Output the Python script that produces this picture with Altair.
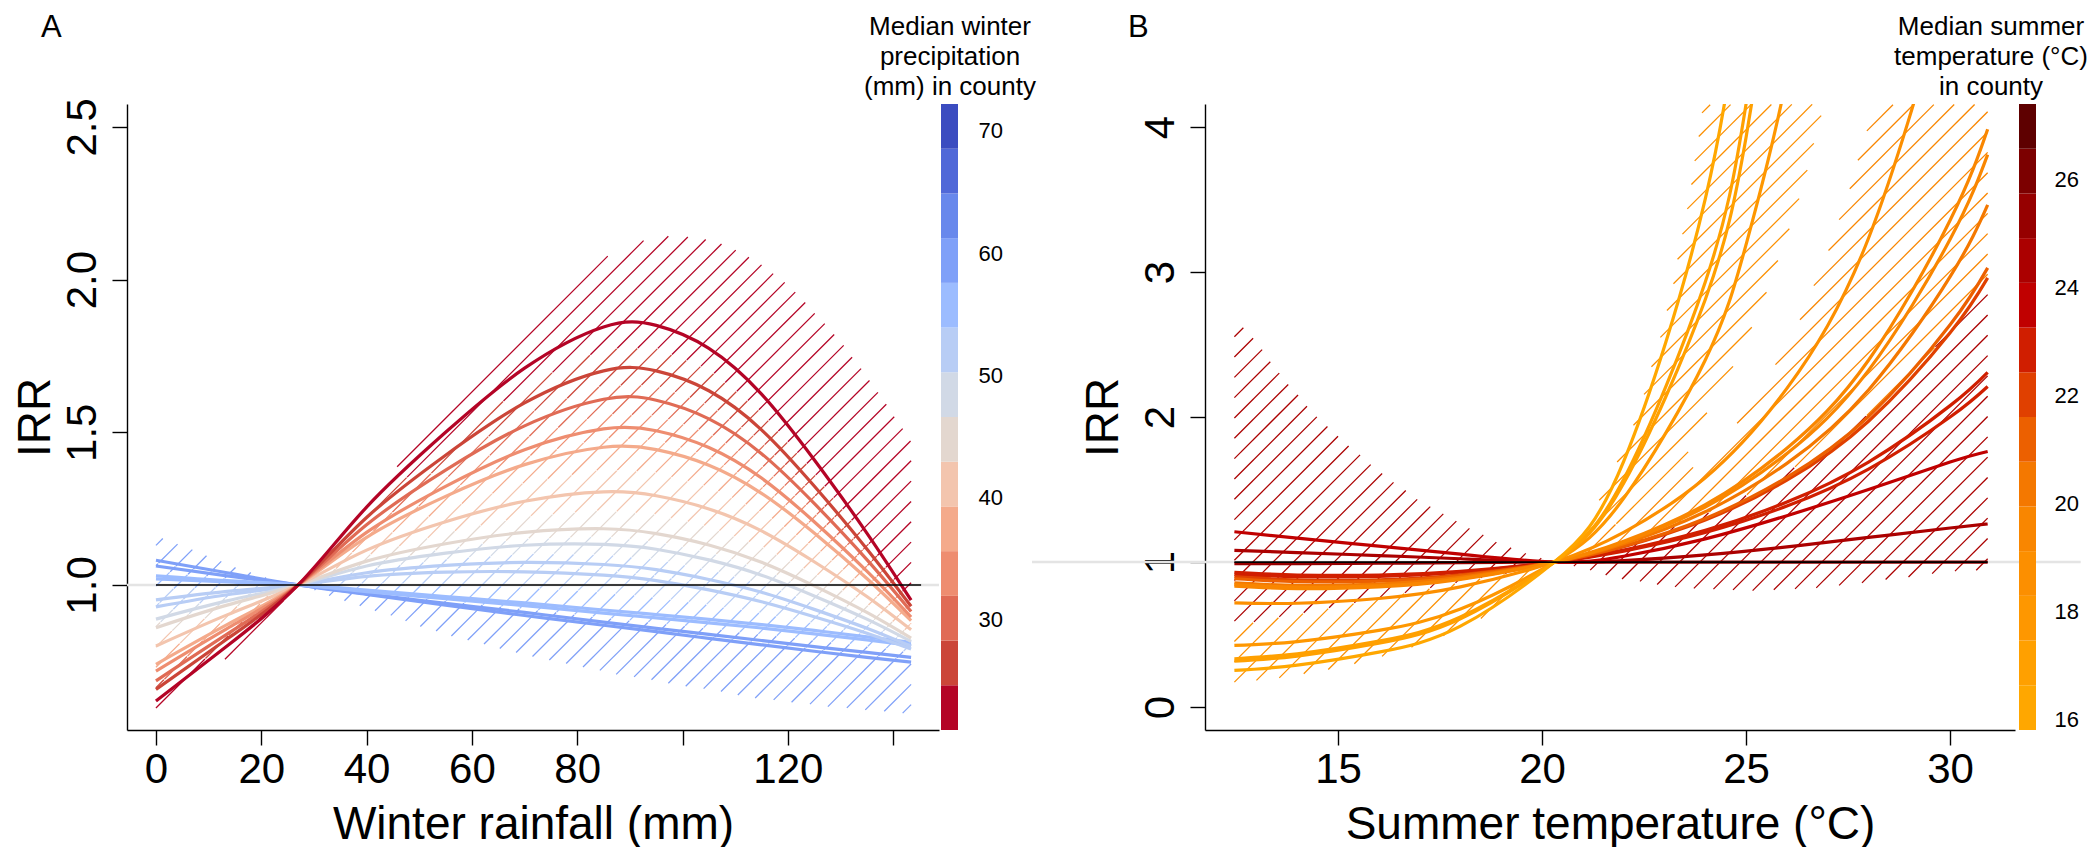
import numpy as np
import pandas as pd
import altair as alt

FONT = "Liberation Sans"
H = 626
HATCH_GAP = 20.32

# ---------------- Panel A : winter rainfall ----------------
A_X = [0, 13.5, 27, 40, 55, 70, 85, 95, 105, 115, 125, 135, 143.4]
A_NAMES = ["b1", "b2", "b3", "b4", "r10", "r9", "r8", "r7", "r6", "r5", "r4", "r3", "r2", "r1"]
A_MEDIAN = [60, 59, 56, 55, 53, 52, 48, 45, 41, 37, 34, 30, 26.5, 23]
A_b1 = [1.081, 1.040, 1.000, 0.969, 0.934, 0.900, 0.868, 0.847, 0.825, 0.804, 0.783, 0.763, 0.747]
A_b2 = [1.062, 1.030, 1.000, 0.971, 0.940, 0.910, 0.878, 0.858, 0.838, 0.818, 0.798, 0.779, 0.763]
A_b3 = [1.030, 1.014, 1.000, 0.978, 0.955, 0.932, 0.908, 0.892, 0.876, 0.859, 0.840, 0.820, 0.802]
A_b4 = [1.020, 1.010, 1.000, 0.983, 0.962, 0.941, 0.918, 0.903, 0.887, 0.870, 0.851, 0.830, 0.812]
A_r10 = [0.951, 0.979, 1.000, 1.028, 1.042, 1.043, 1.032, 1.014, 0.984, 0.945, 0.896, 0.842, 0.790]
A_r9 = [0.928, 0.968, 1.000, 1.040, 1.064, 1.074, 1.067, 1.050, 1.018, 0.976, 0.920, 0.858, 0.799]
A_r8 = [0.888, 0.948, 1.000, 1.062, 1.104, 1.130, 1.133, 1.117, 1.082, 1.032, 0.964, 0.888, 0.815]
A_r7 = [0.860, 0.934, 1.000, 1.078, 1.135, 1.172, 1.184, 1.168, 1.131, 1.074, 0.997, 0.910, 0.826]
A_r6 = [0.800, 0.902, 1.000, 1.114, 1.207, 1.274, 1.305, 1.292, 1.249, 1.177, 1.076, 0.962, 0.853]
A_r5 = [0.740, 0.870, 1.000, 1.156, 1.290, 1.394, 1.451, 1.443, 1.392, 1.300, 1.170, 1.021, 0.883]
A_r4 = [0.718, 0.857, 1.000, 1.172, 1.323, 1.443, 1.511, 1.505, 1.450, 1.350, 1.207, 1.045, 0.895]
A_r3 = [0.686, 0.839, 1.000, 1.197, 1.376, 1.521, 1.608, 1.605, 1.544, 1.430, 1.267, 1.083, 0.913]
A_r2 = [0.658, 0.823, 1.000, 1.221, 1.425, 1.596, 1.701, 1.701, 1.636, 1.508, 1.324, 1.118, 0.930]
A_r1 = [0.620, 0.800, 1.000, 1.255, 1.500, 1.710, 1.845, 1.850, 1.775, 1.625, 1.410, 1.170, 0.950]
A_VALUES = [A_b1, A_b2, A_b3, A_b4, A_r10, A_r9, A_r8, A_r7, A_r6, A_r5, A_r4, A_r3, A_r2, A_r1]

# outline of the hatched confidence region
A_CI_UP_X = [0, 5, 10, 15, 20, 24, 27, 31, 35, 40, 47.5, 55, 62, 70, 80, 86.4, 92.7, 97, 101,
             105, 110, 115, 120, 125, 130, 135, 140, 143.4]
A_CI_UP = [1.16, 1.13, 1.095, 1.06, 1.03, 1.01, 1.0, 1.085, 1.17, 1.275, 1.42, 1.56, 1.69, 1.83,
           1.99, 2.086, 2.129, 2.143, 2.141, 2.132, 2.10, 2.05, 1.985, 1.895, 1.80, 1.685, 1.56, 1.47]
A_CI_LO_X = [0, 6, 12.7, 20, 27, 33, 39, 45, 50, 56, 62, 68, 75, 81, 87, 94, 100, 107, 114,
             121, 128, 135, 143.4]
A_CI_LO = [0.58, 0.66, 0.75, 0.87, 1.0, 0.964, 0.93, 0.896, 0.865, 0.833, 0.806, 0.778, 0.753,
           0.731, 0.708, 0.688, 0.67, 0.65, 0.628, 0.615, 0.60, 0.59, 0.578]

A_COLORS = ["#b40426", "#cb4538", "#e06b55", "#ee8d70", "#f4aa8b", "#f3c5ae", "#e3d7cf",
            "#d1d9e6", "#b8cdf5", "#9cbcff", "#7fa0f8", "#6888ec", "#5068d8", "#3b4cc0"]
A_CB_DOMAIN = [21.0, 72.2]
A_CB_TICKS = [30, 40, 50, 60, 70]
A_XDOM = [-5.5, 148.7]
A_YDOM = [0.525, 2.575]
A_W = 812
A_XTICKS = [0, 20, 40, 60, 80, 100, 120, 140]
A_YTICKS = [1.0, 1.5, 2.0, 2.5]
A_REF_X = [0, 145.3]
A_GREY_X = [-5.5, 148.7]
A_PHASE = 632.9
A_TITLE = "Median winter\nprecipitation\n(mm) in county"

# ---------------- Panel B : summer temperature ----------------
B_X = [12.46, 14, 16, 18, 20.3, 22, 24, 26, 28, 30, 30.92]
B_NAMES = ["D3", "D2", "D1", "R4", "R3", "R2", "R1", "O4", "O3", "O2", "O1", "Y4", "Y3", "Y2", "Y1"]
B_MEDIAN = [25.3, 24.5, 23.6, 23.0, 22.8, 22.0, 21.2, 20.3, 19.7, 19.4, 18.7, 17.9, 17.2, 16.9, 16.2]
B_D3 = [0.990, 0.990, 0.992, 0.996, 1.0, 1.0, 1.0, 1.0, 1.0, 1.0, 1.0]
B_D2 = [1.081, 1.065, 1.045, 1.023, 1.0, 1.010, 1.050, 1.105, 1.170, 1.235, 1.264]
B_D1 = [1.209, 1.165, 1.110, 1.055, 1.0, 1.040, 1.160, 1.320, 1.500, 1.690, 1.763]
B_R4 = [0.930, 0.911, 0.910, 0.936, 1.0, 1.076, 1.204, 1.386, 1.641, 2.000, 2.211]
B_R3 = [0.915, 0.899, 0.901, 0.930, 1.0, 1.082, 1.219, 1.414, 1.690, 2.079, 2.309]
B_R2 = [0.900, 0.877, 0.877, 0.912, 1.0, 1.106, 1.290, 1.565, 1.971, 2.581, 2.960]
B_R1 = [0.885, 0.865, 0.869, 0.907, 1.0, 1.110, 1.301, 1.584, 2.004, 2.636, 3.029]
B_O4 = [0.857, 0.839, 0.848, 0.894, 1.0, 1.126, 1.347, 1.681, 2.187, 2.968, 3.464]
B_O3 = [0.845, 0.827, 0.836, 0.885, 1.0, 1.137, 1.379, 1.749, 2.322, 3.226, 3.810]
B_O2 = [0.834, 0.817, 0.829, 0.881, 1.0, 1.143, 1.396, 1.785, 2.392, 3.357, 3.985]
B_O1_X = [12.46, 14, 16, 18, 20.3, 22, 24, 26, 28, 30]
B_O1 = [0.719, 0.716, 0.749, 0.829, 1.0, 1.205, 1.582, 2.198, 3.233, 5.03]
B_Y4_X = [12.46, 14, 16, 18, 20.3, 22, 24, 25, 26, 27]
B_Y4 = [0.425, 0.452, 0.529, 0.676, 1.0, 1.439, 2.394, 3.19, 4.35, 6.06]
B_Y3_X = [12.46, 14, 16, 18, 20.3, 22, 24, 25, 26]
B_Y3 = [0.333, 0.368, 0.455, 0.621, 1.0, 1.543, 2.811, 3.93, 5.64]
B_Y2_X = [12.46, 14, 16, 18, 20.3, 22, 24, 25, 26]
B_Y2 = [0.317, 0.352, 0.440, 0.609, 1.0, 1.571, 2.932, 4.16, 6.05]
B_Y1_X = [12.46, 14, 16, 18, 20.3, 22, 24, 25]
B_Y1 = [0.253, 0.289, 0.379, 0.558, 1.0, 1.695, 3.504, 5.25]
B_XS = [B_X, B_X, B_X, B_X, B_X, B_X, B_X, B_X, B_X, B_X, B_O1_X, B_Y4_X, B_Y3_X, B_Y2_X, B_Y1_X]
B_VALUES = [B_D3, B_D2, B_D1, B_R4, B_R3, B_R2, B_R1, B_O4, B_O3, B_O2, B_O1, B_Y4, B_Y3, B_Y2, B_Y1]

# hatched confidence zones (priority Z1 > Z2 > Z3)
Z1_LO_X = [12.46, 14, 16, 18, 19.5, 20.3, 21, 22, 23, 24, 25, 26, 27, 28, 29, 30, 30.92]
Z1_LO = [0.56, 0.64, 0.75, 0.86, 0.94, 1.0, 0.95, 0.88, 0.835, 0.81, 0.80, 0.808, 0.826, 0.86,
         0.897, 0.93, 0.95]
Z1_UP_X = [12.46, 13, 13.5, 14, 14.5, 15, 15.5, 16, 16.5, 17, 17.5, 18, 18.5, 19, 19.5, 20, 20.3,
           21, 22, 23, 24, 25, 26, 27, 28, 29, 30, 30.92]
Z1_UP = [2.70, 2.52, 2.33, 2.16, 2.0, 1.87, 1.75, 1.635, 1.53, 1.43, 1.345, 1.27, 1.197, 1.13,
         1.075, 1.03, 1.0, 1.05, 1.13, 1.22, 1.33, 1.46, 1.62, 1.80, 2.02, 2.28, 2.6, 2.9]
Z1_MEDIAN = 24.5
Z2_LO_X = [20.3, 30.92]
Z2_LO = [1.0, 1.0]
Z2_UP_X = [20.3, 21, 22, 23, 24, 24.65, 25.5, 26.3, 27, 27.5, 28.13, 29, 30.92]
Z2_UP = [1.0, 1.1, 1.3, 1.5, 1.72, 1.907, 2.25, 2.66, 3.14, 3.55, 4.14, 5.0, 7.0]
Z2_MEDIAN = 19.5
Z3_LO_X = [12.46, 13.5, 14.5, 15.5, 16.5, 17.5, 18.5, 19.5, 20.3, 21, 22, 23.12, 23.98, 24.65,
           25.11, 25.47, 25.76, 26.04, 26.28, 26.49, 26.67, 26.84, 27.2]
Z3_LO = [0.163, 0.195, 0.243, 0.30, 0.38, 0.48, 0.61, 0.80, 1.0, 1.06, 1.18, 1.483, 1.999, 2.328,
         2.594, 2.835, 3.062, 3.278, 3.486, 3.68, 3.89, 4.077, 4.6]
Z3_UP_X = [12.46, 16, 18, 20.3, 21.36, 21.85, 22.22, 22.47, 22.67, 22.88, 23.04, 23.19, 23.31,
           23.43, 23.55, 23.64, 23.73, 23.82, 23.9, 24.1, 27.2]
Z3_UP = [0.75, 0.8, 0.9, 1.0, 1.408, 1.70, 1.934, 2.14, 2.342, 2.536, 2.724, 2.898, 3.079, 3.251,
         3.423, 3.589, 3.755, 3.916, 4.08, 4.6, 4.6]
Z3_MEDIAN = 18.7

B_COLORS = ["#ffa700", "#ffa000", "#fe9700", "#fc8f00", "#f98600", "#f47800", "#ec6000",
            "#e04000", "#d01e00", "#c00000", "#ab0000", "#960000", "#7c0000", "#5e0000"]
B_CB_DOMAIN = [15.8, 27.4]
B_CB_TICKS = [16, 18, 20, 22, 24, 26]
B_XDOM = [11.74, 31.59]
B_YDOM = [-0.158, 4.159]
B_W = 810
B_XTICKS = [15, 20, 25, 30]
B_YTICKS = [0, 1, 2, 3, 4]
B_REF_X = [12.46, 30.92]
B_GREY_X = [7.5, 33.2]
B_PHASE = 790.4
B_TITLE = "Median summer\ntemperature (°C)\nin county"


# ---------------- helpers ----------------
def hatch_frame(xs, classify, xdom, ydom, width, phase):
    sx = width / (xdom[1] - xdom[0])
    sy = H / (ydom[1] - ydom[0])
    px = (xs - xdom[0]) * sx
    kmin = int(np.floor((px.min() - phase) / HATCH_GAP)) - 1
    kmax = int(np.ceil((px.max() + H - phase) / HATCH_GAP)) + 1
    rows = []
    for k in range(kmin, kmax + 1):
        c = phase + k * HATCH_GAP
        ys = ydom[1] - (c - px) / sy
        vals = classify(xs, ys)
        n = len(xs)
        i = 0
        while i < n:
            v = vals[i]
            if np.isnan(v):
                i += 1
                continue
            j = i
            while j + 1 < n and vals[j + 1] == v:
                j += 1
            if j > i:
                rows.append({"x": xs[i], "y": ys[i], "x2": xs[j], "y2": ys[j], "m": v})
            i = j + 1
    return pd.DataFrame(rows)


def classify_A(xs, ys):
    lo = np.interp(xs, A_CI_LO_X, A_CI_LO)
    hi = np.interp(xs, A_CI_UP_X, A_CI_UP)
    cur = np.array([np.interp(xs, A_X, v) for v in A_VALUES])
    idx = np.argmin(np.abs(cur - ys[None, :]), axis=0)
    med = np.array(A_MEDIAN, dtype=float)[idx]
    ok = (ys >= lo) & (ys <= hi) & (xs >= A_X[0]) & (xs <= A_X[-1])
    return np.where(ok, med, np.nan)


B_ZONES = [  # lowest priority first
    (Z3_LO_X, Z3_LO, Z3_UP_X, Z3_UP, Z3_MEDIAN),
    (Z2_LO_X, Z2_LO, Z2_UP_X, Z2_UP, Z2_MEDIAN),
    (Z1_LO_X, Z1_LO, Z1_UP_X, Z1_UP, Z1_MEDIAN),
]


def classify_B(xs, ys):
    out = np.full(len(xs), np.nan)
    valid = (ys >= B_YDOM[0]) & (ys <= B_YDOM[1])
    for lx, lv, ux, uv, med in B_ZONES:
        xmin = max(lx[0], ux[0])
        xmax = min(lx[-1], ux[-1])
        lo = np.interp(xs, lx, lv)
        hi = np.interp(xs, ux, uv)
        m = (xs >= xmin) & (xs <= xmax) & (ys >= lo) & (ys <= hi) & valid
        out[m] = med
    return out


def curves_frame(names, xs_list, vals_list, medians):
    rows = []
    for name, xs, vs, med in zip(names, xs_list, vals_list, medians):
        for x, v in zip(xs, vs):
            rows.append({"name": name, "x": x, "y": v, "m": med})
    return pd.DataFrame(rows)


def cbar_frame(dom, n):
    edges = np.linspace(dom[0], dom[1], n + 1)
    return pd.DataFrame({"lo": edges[:-1], "hi": edges[1:], "mid": (edges[:-1] + edges[1:]) / 2})


def make_panel(curves, hatch, ref_x, grey_x, xdom, ydom, width, xticks, yticks, yfmt,
               xtitle, label_expr, colors, cbdom, cbticks, cb_x0, cb_pad, title_text,
               title_x, letter, letter_x, title_xpos):
    colscale = alt.Scale(type="quantize", domain=cbdom, range=colors, nice=False, zero=False)
    col = alt.Color("m:Q", scale=colscale, legend=None)
    xaxis = alt.Axis(values=xticks, labelExpr=label_expr, tickSize=15, labelPadding=4,
                     labelFontSize=42, labelFlush=False, labelOverlap=False,
                     titleFontSize=46, titleY=108, titleBaseline="alphabetic", grid=False)
    yaxis = alt.Axis(values=yticks, format=yfmt, labelAngle=270, labelAlign="center",
                     labelBaseline="alphabetic", labelPadding=17, tickSize=15,
                     labelFontSize=42, labelOverlap=False, labelFlush=False,
                     titleFontSize=46, titleAngle=270, titleAlign="center",
                     titleBaseline="alphabetic", titleX=title_x, titleY=H / 2, grid=False)
    xs = alt.X("x:Q", scale=alt.Scale(domain=xdom, nice=False, zero=False), axis=xaxis, title=xtitle)
    ys = alt.Y("y:Q", scale=alt.Scale(domain=ydom, nice=False, zero=False), axis=yaxis, title="IRR")

    grey_df = pd.DataFrame({"x": [grey_x[0]], "x2": [grey_x[1]], "y": [1.0]})
    ref_df = pd.DataFrame({"x": [ref_x[0]], "x2": [ref_x[1]], "y": [1.0]})

    grey = alt.Chart(grey_df).mark_rule(color="#e4e4e4", strokeWidth=2.5).encode(
        x=xs, x2="x2:Q", y=ys)
    hat = alt.Chart(hatch).mark_rule(strokeWidth=1.25, clip=True).encode(
        x=xs, x2="x2:Q", y=ys, y2="y2:Q", color=col)
    lines = alt.Chart(curves).mark_line(strokeWidth=3.2, interpolate="natural", clip=True).encode(
        x=xs, y=ys, color=col, detail="name:N")
    ref = alt.Chart(ref_df).mark_rule(color="black", strokeWidth=1.6).encode(
        x=xs, x2="x2:Q", y=ys)
    main = alt.layer(grey, hat, lines, ref)

    cb = cbar_frame(cbdom, len(colors))
    cbaxis = alt.Axis(values=cbticks, orient="right", ticks=False, tickSize=0, domain=False,
                      labelPadding=cb_pad, labelFontSize=22, labelAlign="left",
                      labelBaseline="middle", title=None, grid=False, labelOverlap=False)
    cbar = alt.Chart(cb).mark_rect().encode(
        x=alt.value(cb_x0), x2=alt.value(cb_x0 + 17),
        y=alt.Y("lo:Q", scale=alt.Scale(domain=cbdom, nice=False, zero=False), axis=cbaxis),
        y2="hi:Q",
        color=alt.Color("mid:Q", scale=colscale, legend=None))

    ttl = alt.Chart(pd.DataFrame({"t": [title_text]})).mark_text(
        align="center", baseline="alphabetic", fontSize=26, lineHeight=30, lineBreak="\n",
        font=FONT, color="black").encode(x=alt.value(title_xpos), y=alt.value(-69), text="t:N")
    let = alt.Chart(pd.DataFrame({"t": [letter]})).mark_text(
        align="left", baseline="alphabetic", fontSize=31, font=FONT, color="black").encode(
        x=alt.value(letter_x), y=alt.value(-67), text="t:N")

    return alt.layer(main, cbar, ttl, let).resolve_scale(y="independent").properties(
        width=width, height=H)


# ---------------- build ----------------
A_curves = curves_frame(A_NAMES, [A_X] * len(A_NAMES), A_VALUES, A_MEDIAN)
A_hatch = hatch_frame(np.arange(0, 143.4 + 1e-9, 0.1), classify_A, A_XDOM, A_YDOM, A_W, A_PHASE)
B_curves = curves_frame(B_NAMES, B_XS, B_VALUES, B_MEDIAN)
B_hatch = hatch_frame(np.arange(12.46, 30.92 + 1e-9, 0.02), classify_B, B_XDOM, B_YDOM, B_W, B_PHASE)

panelA = make_panel(A_curves, A_hatch, A_REF_X, A_GREY_X, A_XDOM, A_YDOM, A_W, A_XTICKS,
                    A_YTICKS, ".1f", "Winter rainfall (mm)",
                    "datum.value == 100 || datum.value == 140 ? '' : datum.label",
                    A_COLORS, A_CB_DOMAIN, A_CB_TICKS, A_W + 2, 39, A_TITLE, -78, "A", -86, 823)
panelB = make_panel(B_curves, B_hatch, B_REF_X, B_GREY_X, B_XDOM, B_YDOM, B_W, B_XTICKS,
                    B_YTICKS, "d", "Summer temperature (°C)", "datum.label",
                    B_COLORS, B_CB_DOMAIN, B_CB_TICKS, B_W + 4, 39, B_TITLE, -88, "B", -77, 786)

chart = alt.hconcat(panelA, panelB, spacing=266, bounds="flush").resolve_scale(
    color="independent").properties(
    padding={"left": 4, "top": 4, "right": 0, "bottom": 0}).configure(font=FONT).configure_view(
    stroke=None).configure_axis(labelFont=FONT, titleFont=FONT, labelColor="black",
                                titleColor="black", domainColor="black", tickColor="black",
                                domainWidth=1.4, tickWidth=1.4, titleFontWeight="normal")

chart.save("out.html", embed_options={"renderer": "svg", "actions": False})
